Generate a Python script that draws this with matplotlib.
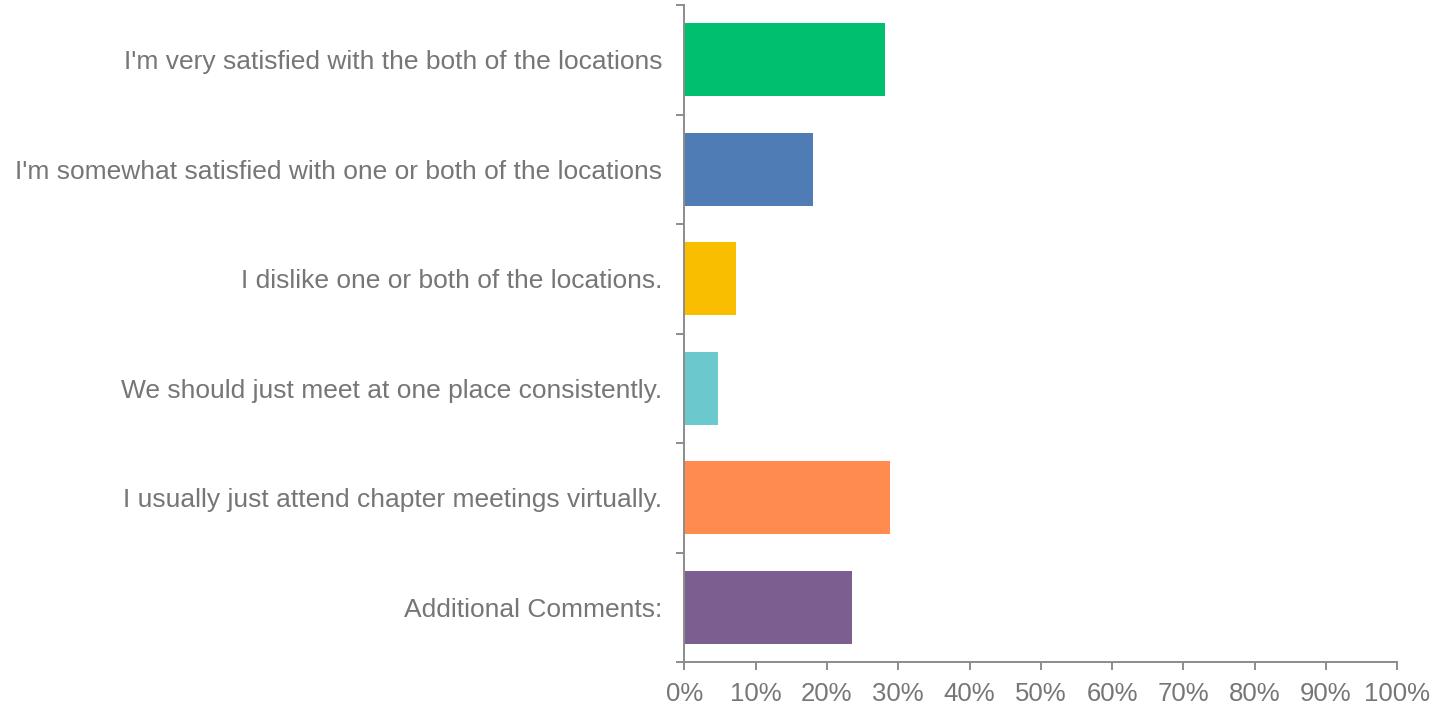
import numpy as np
import matplotlib
matplotlib.use("Agg")
import matplotlib.pyplot as plt

categories = [
    "I'm very satisfied with the both of the locations",
    "I'm somewhat satisfied with one or both of the locations",
    "I dislike one or both of the locations.",
    "We should just meet at one place consistently.",
    "I usually just attend chapter meetings virtually.",
    "Additional Comments:",
]
values = [28.15, 18.05, 7.25, 4.7, 28.85, 23.5]
colors = ["#00BF6F", "#507CB6", "#F9BE00", "#6BC8CD", "#FF8B4F", "#7D5E90"]
x_ticks = np.arange(0, 101, 10)
x_labels = ["%d%%" % v for v in x_ticks]

plt.rcParams["font.family"] = ["Liberation Sans", "DejaVu Sans"]
axis_col = "#8c8c8c"
text_col = "#767676"

fig = plt.figure(figsize=(14.41, 7.06), dpi=100)
ax = fig.add_axes([0.4749, 0.0623, 0.4948, 0.9306])

y = np.arange(len(categories))
ax.barh(y, values, height=0.667, color=colors)
ax.set_ylim(len(categories) - 0.5, -0.5)
ax.set_xlim(0, 100)

# category separators as major ticks, labels on minor ticks
ax.set_yticks(np.arange(-0.5, len(categories), 1), minor=False)
ax.set_yticklabels([])
ax.set_yticks(y, minor=True)
ax.set_yticklabels(categories, minor=True)
ax.tick_params(axis="y", which="major", length=5.5, width=1.4, color=axis_col, direction="out")
ax.tick_params(axis="y", which="minor", length=0, pad=16, labelsize=19, labelcolor=text_col)

ax.set_xticks(x_ticks)
ax.set_xticklabels(x_labels)
ax.tick_params(axis="x", length=5.5, width=1.4, color=axis_col, pad=9, labelsize=18.5, labelcolor=text_col)

for s in ["top", "right"]:
    ax.spines[s].set_visible(False)
for s in ["left", "bottom"]:
    ax.spines[s].set_color(axis_col)
    ax.spines[s].set_linewidth(1.4)

plt.savefig("out.png", dpi=100)
